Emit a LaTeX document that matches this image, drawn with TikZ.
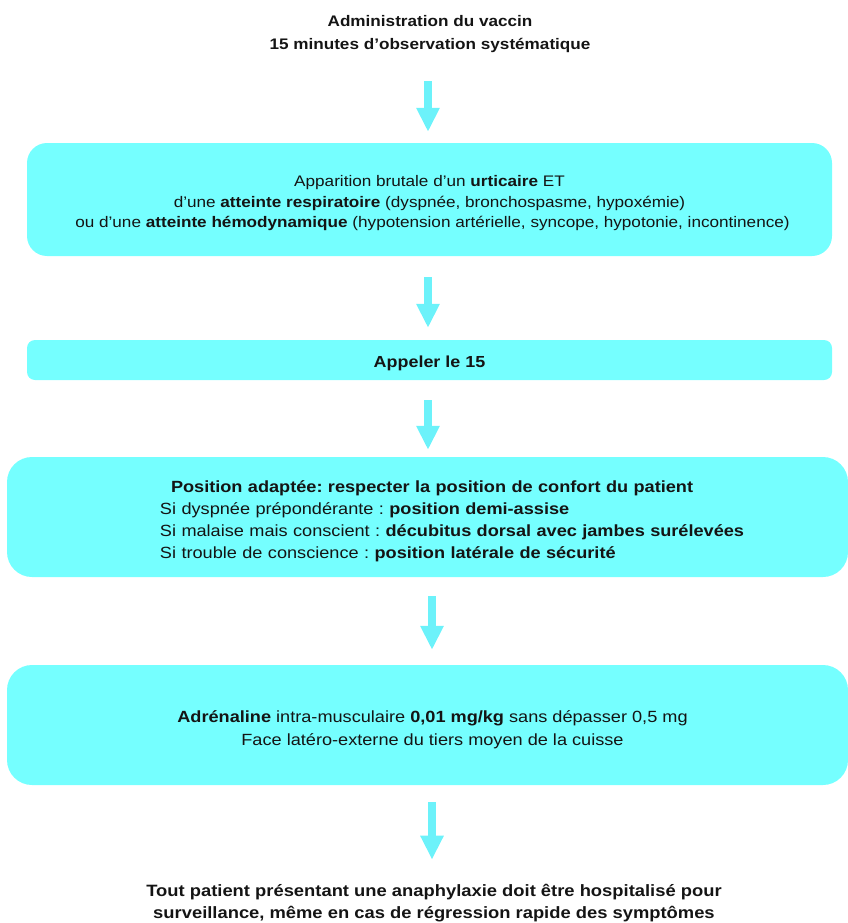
\documentclass[tikz,border=0pt]{standalone}
\usepackage{fontspec}
\setmainfont{Liberation Sans}[FakeStretch=1.12]
\usepackage{tikz}
\usetikzlibrary{arrows.meta}
\definecolor{boxcyan}{RGB}{117,255,255}
\definecolor{arrowcyan}{RGB}{108,242,250}
\definecolor{txt}{RGB}{20,20,20}
\frenchspacing

\begin{document}
\begin{tikzpicture}[x=1pt, y=-1pt, font=\fontsize{15}{22}\selectfont, text=txt,
  box/.style={fill=boxcyan, inner sep=0pt, align=center},
  flow/.style={arrowcyan, line width=8pt, -{Triangle[width=22pt,length=24pt]}}]
\useasboundingbox (0,0) rectangle (847,923);
% titre
\node[align=center, font=\bfseries\fontsize{15.3}{23}\selectfont] (vaccin) at (430,34)
  {Administration du vaccin\\15 minutes d’observation systématique};
% criteres
\node[box, rounded corners=20pt, minimum width=805pt, minimum height=113pt,
  text height=56pt, text depth=0pt,
  font=\fontsize{15.3}{20.5}\selectfont] (signes) at (429.5,199.5)
  {Apparition brutale d’un \textbf{urticaire} ET\\
   d’une \textbf{atteinte respiratoire} (dyspnée, bronchospasme, hypoxémie)\\
   \hspace*{6pt}ou d’une \textbf{atteinte hémodynamique} (hypotension artérielle, syncope, hypotonie, incontinence)};
\node[box, rounded corners=8pt, minimum width=805pt, minimum height=40pt,
  text height=15.5pt, text depth=0pt,
  font=\bfseries\fontsize{16}{22}\selectfont] (appel) at (429.5,360) {Appeler le 15};
\node[box, rounded corners=25pt, minimum width=841pt, minimum height=120pt, text depth=61.5pt,
  text width=841pt, align=left, font=\fontsize{16.2}{22}\selectfont] (position) at (427.5,517)
  {\hspace*{164pt}\textbf{Position adaptée: respecter la position de confort du patient}\\
   \hspace*{153pt}Si dyspnée prépondérante : \textbf{position demi-assise}\\
   \hspace*{153pt}Si malaise mais conscient : \textbf{décubitus dorsal avec jambes surélevées}\\
   \hspace*{153pt}Si trouble de conscience : \textbf{position latérale de sécurité}};
\node[box, rounded corners=25pt, minimum width=841pt, minimum height=120pt,
  text height=41pt, text depth=0pt,
  font=\fontsize{16.2}{23}\selectfont] (adre) at (427.5,725)
  {\hspace*{10pt}\textbf{Adrénaline} intra-musculaire \textbf{0,01 mg/kg} sans dépasser 0,5 mg\\
   \hspace*{10pt}Face latéro-externe du tiers moyen de la cuisse};
% conclusion
\node[align=center, font=\bfseries\fontsize{16.4}{22}\selectfont] (hospit) at (434,903)
  {Tout patient présentant une anaphylaxie doit être hospitalisé pour\\
   surveillance, même en cas de régression rapide des symptômes};

\draw[flow, shorten <=25pt, shorten >=11pt] (vaccin.south -| 428,0) -- (signes.north -| 428,0);
\draw[flow, shorten <=21pt, shorten >=12pt] (signes.south -| 428,0) -- (appel.north -| 428,0);
\draw[flow, shorten <=20pt, shorten >=7pt] (appel.south -| 428,0) -- (position.north -| 428,0);
\draw[flow, shorten <=19pt, shorten >=15pt] (position.south -| 432,0) -- (adre.north -| 432,0);
\draw[flow, shorten <=17pt, shorten >=21pt] (adre.south -| 432,0) -- (hospit.north -| 432,0);
\end{tikzpicture}
\end{document}
